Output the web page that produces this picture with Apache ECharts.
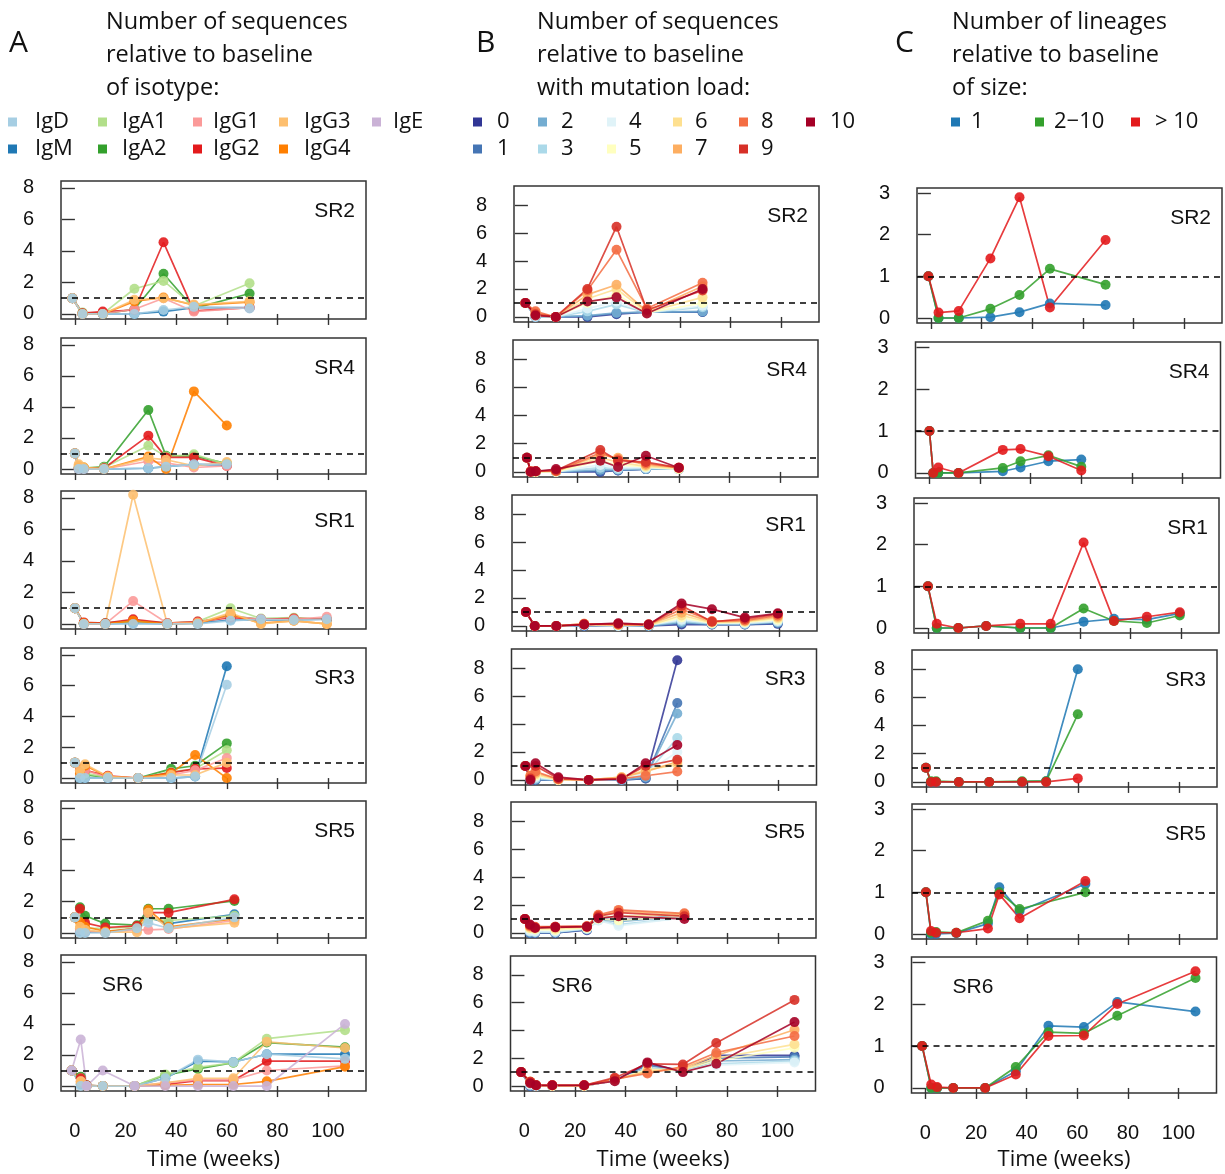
<!DOCTYPE html>
<html><head><meta charset="utf-8">
<script src="https://cdn.jsdelivr.net/npm/echarts@6/dist/echarts.min.js"></script>
<style>html,body{margin:0;padding:0;background:#fff}#c{width:1225px;height:1174px}</style>
</head><body><div id="c"></div>
<script>
// ---------------- DATA ----------------
const subjects = ['SR2','SR4','SR1','SR3','SR5','SR6'];
const weeksSR2 = [-1, 3, 11, 23.5, 35, 47, 69];
const weeksSR4 = [0, 1.5, 3.5, 11.5, 29, 36, 47, 60];
const weeksSR1 = [0, 3.5, 12, 23, 36.5, 48.5, 61.5, 73.5, 86.5, 99.5];
const weeksSR3 = [0, 2, 4, 13, 25, 38, 47.5, 60];
const weeksSR5 = [0, 2, 4, 12, 24.5, 29, 37, 63];
const weeksSR6 = [-1.3, 2.3, 4.6, 11, 23.6, 35.7, 48.6, 62.6, 75.8, 106.7];
const xTicks = [0, 20, 40, 60, 80, 100];
const yTicks8 = [0, 2, 4, 6, 8];
const yTicks3 = [0, 1, 2, 3];

// Panel A: isotypes
const isotypes = ['IgD','IgM','IgA1','IgA2','IgG1','IgG2','IgG3','IgG4','IgE'];
const isoColors = ['#A6CEE3','#1F78B4','#B2DF8A','#33A02C','#FB9A99','#E31A1C','#FDBF6F','#FF7F00','#CAB2D6'];
const isoDrawOrder = ['IgM','IgA2','IgA1','IgG2','IgG1','IgG4','IgG3','IgD','IgE'];
const isoSR2 = {
  IgD:[1,0,0,0,0.25,0.45,0.35], IgM:[1,0,0,0,0.15,0.4,0.4],
  IgA1:[1,0.1,0,1.6,2.1,0.5,1.95], IgA2:[1,0.05,0,0.3,2.55,0.35,1.3],
  IgG1:[1,0,0,0.3,1.0,0.15,0.4], IgG2:[1,0.05,0.15,0.25,4.55,0.2,0.4],
  IgG3:[1,0,0,0.9,1.0,0.6,0.8], IgG4:[1,0,0,0.8,1.05,0.55,0.75], IgE:null };
const isoSR4 = {
  IgD:[1,0,0,0,0.05,0.15,0.3,0.3], IgM:[1,0,0,0,0.05,0.15,0.3,0.25],
  IgA1:[1,0.1,0.1,0.1,1.5,0.8,0.95,0.3], IgA2:[1,0.1,0.05,0.15,3.8,0.85,0.85,0.35],
  IgG1:[1,0,0,0,0.5,0.4,0.1,0.2], IgG2:[1,0.05,0.05,0.05,2.15,0.75,0.75,0.2],
  IgG3:[1,0.3,0.1,0,0.7,0.6,0.2,0.45], IgG4:[1,0.2,0.1,0,0.8,0,5.0,2.8], IgE:null };
const isoSR1 = {
  IgD:[1,0,0,0,0,0,0.2,0.3,0.25,0.3], IgM:[1,0,0,0.05,0,0.05,0.25,0.25,0.25,0.3],
  IgA1:[1,0.05,0.05,0.2,0.05,0.15,1.0,0.35,0.4,0.3], IgA2:[1,0.05,0.05,0.2,0.05,0.1,0.5,0.3,0.3,0.3],
  IgG1:[1,0,0,1.45,0.05,0.1,0.5,0.3,0.3,0.45], IgG2:[1,0.1,0.05,0.3,0.05,0.15,0.4,0.3,0.35,0.3],
  IgG3:[1,0,0,8.2,0,0.05,0.7,0,0.2,0], IgG4:[1,0.05,0,0.2,0,0.05,0.6,0.05,0.2,0], IgE:null };
const isoSR3 = {
  IgD:[1,0,0,0,0,0,0.1,6.05], IgM:[1,0,0,0,0,0,0.1,7.25],
  IgA1:[1,0.5,0.3,0.05,0,0.4,0.6,1.8], IgA2:[1,0.4,0.2,0.05,0,0.6,0.8,2.25],
  IgG1:[1,0.3,0.5,0.05,0,0.2,0.5,1.3], IgG2:[1,0.6,0.5,0.15,0,0.35,0.6,0.65],
  IgG3:[1,0.5,0.9,0.1,0,0.2,0.2,1.0], IgG4:[1,0.3,0.8,0.1,0,0.3,1.5,0], IgE:null };
const isoSR5 = {
  IgD:[1,0,0,0,0.3,0.65,0.3,1.0], IgM:[1,0.1,0.05,0.05,0.3,1.0,0.6,1.2],
  IgA1:[1,0.3,0.3,0.3,0.4,0.9,0.8,1.1], IgA2:[1,1.65,1.1,0.6,0.5,1.55,1.55,2.05],
  IgG1:[1,0.2,0.1,0.05,0.2,0.2,0.25,0.8], IgG2:[1,1.55,0.65,0.35,0.45,1.3,1.3,2.15],
  IgG3:[1,0.4,0.2,0.05,0.05,1.3,0.3,0.65], IgG4:[1,0.7,0.4,0.1,0.3,1.5,0.4,0.9], IgE:null };
const isoSR6 = {
  IgD:[1,0,0,0,0,0.5,1.7,1.55,2.05,1.75], IgM:[1,0.1,0,0,0,0.5,1.6,1.55,2.05,2.05],
  IgA1:[1,0.5,0,0,0,0.75,1.2,1.5,3.05,3.6], IgA2:[1,0.6,0.05,0,0,0.7,1.1,1.5,2.8,2.5],
  IgG1:[1,0.3,0,0,0,0.2,0.4,0.4,1.0,1.3], IgG2:[1,0.5,0.05,0,0,0.1,0.35,0.35,1.6,1.6],
  IgG3:[1,0.3,0,0,0,0.2,0.5,0.5,2.85,2.45], IgG4:[1,0.2,0,0,0,0.05,0.1,0.1,0.3,1.25],
  IgE:[1,3.0,0,1.0,0,0,0,0,0,4.0] };

// Panel B: mutation load 0..10
const loads = ['0','1','2','3','4','5','6','7','8','9','10'];
const loadColors = ['#313695','#4575B4','#74ADD1','#ABD9E9','#E0F3F8','#FFFFBF','#FEE090','#FDAE61','#F46D43','#D73027','#A50026'];
const mutSR2 = [
  [1,0,0,0,0.2,0.35,0.35],[1,0,0,0.05,0.25,0.35,0.35],[1,0,0,0.1,0.3,0.35,0.4],
  [1,0,0,0.4,0.9,0.3,0.7],[1,0.05,0,0.6,1.1,0.3,0.8],[1,0.1,0,1.0,1.6,0.3,1.0],
  [1,0.2,0,1.3,2.0,0.35,1.4],[1,0.3,0,1.6,2.3,0.4,2.2],[1,0.4,0,1.9,4.8,0.6,2.45],
  [1,0.2,0,2.0,6.45,0.5,1.9],[1,0.1,0,1.1,1.4,0.25,2.0]];
const mutSR4 = [
  [1,0,0,0,0,0.1,0.2,0.2],[1,0,0,0,0.05,0.1,0.2,0.2],[1,0,0,0,0.15,0.15,0.2,0.2],
  [1,0,0,0,0.3,0.2,0.25,0.2],[1,0,0,0,0.5,0.3,0.3,0.2],[1,0,0,0,0.8,0.5,0.35,0.2],
  [1,0,0,0.05,1.0,0.7,0.4,0.25],[1,0,0.05,0.05,1.2,1.0,0.5,0.3],[1,0.05,0.05,0.05,1.35,0.9,0.6,0.3],
  [1,0.05,0.05,0.1,1.55,0.8,0.7,0.3],[1,0,0.05,0.2,0.8,0.35,1.15,0.3]];
const mutSR1 = [
  [1,0,0,0,0,0,0.1,0.1,0.1,0.15],[1,0,0,0,0,0,0.2,0.1,0.1,0.2],[1,0,0,0.05,0,0,0.25,0.15,0.15,0.25],
  [1,0,0,0.05,0,0.05,0.35,0.15,0.15,0.3],[1,0,0,0.05,0,0.05,0.45,0.2,0.2,0.35],[1,0,0,0.1,0.05,0.05,0.6,0.2,0.25,0.45],
  [1,0,0,0.1,0.05,0.05,0.75,0.25,0.3,0.55],[1,0,0,0.15,0.1,0.1,0.95,0.3,0.35,0.65],[1,0,0,0.15,0.1,0.1,1.2,0.35,0.4,0.75],
  [1,0,0,0.1,0.15,0.1,1.45,0.3,0.5,0.85],[1,0,0,0.1,0.2,0.1,1.6,1.2,0.6,0.9]];
const mutSR3 = [
  [1,0,0,0,0,0,0.1,8.55],[1,0,0,0,0,0,0.1,5.5],[1,0,0.05,0,0,0,0.2,4.75],
  [1,0.05,0.1,0,0,0.05,0.4,3.0],[1,0.1,0.2,0,0,0.05,0.5,2.0],[1,0.2,0.3,0,0,0.1,0.7,1.2],
  [1,0.3,0.4,0,0,0.2,0.7,1.1],[1,0.3,0.5,0.05,0,0.2,0.6,1.3],[1,0.3,0.6,0.05,0,0.1,0.3,0.6],
  [1,0.1,1.0,0.1,0,0.1,1.0,1.45],[1,0,1.2,0.2,0,0.05,1.2,2.5]];
const mutSR5 = [
  [1,0,0,0,0.2,1.0,0.9,1.2],[1,0,0,0,0.25,1.0,0.9,1.25],[1,0.05,0.05,0.05,0.25,0.95,0.8,1.2],
  [1,0.1,0.05,0.05,0.3,0.9,0.6,1.1],[1,0.15,0.1,0.1,0.3,0.9,0.5,1.1],[1,0.3,0.25,0.2,0.35,1.0,0.9,1.2],
  [1,0.35,0.3,0.3,0.4,1.1,1.2,1.3],[1,0.45,0.4,0.4,0.45,1.25,1.55,1.35],[1,0.5,0.45,0.45,0.5,1.3,1.65,1.4],
  [1,0.55,0.4,0.45,0.45,1.2,1.45,1.2],[1,0.6,0.35,0.4,0.45,1.05,1.2,1.0]];
const mutSR6 = [
  [1,0,0,0,0,0.4,1.6,1.1,2.2,2.2],[1,0,0,0,0,0.4,1.5,1.1,2.0,2.1],[1,0.05,0,0,0,0.4,1.3,1.1,1.8,1.9],
  [1,0.1,0,0,0,0.4,1.2,1.1,1.6,1.8],[1,0.1,0,0,0,0.4,1.2,1.1,1.5,1.7],[1,0.2,0.05,0,0,0.4,1.2,1.2,1.8,2.75],
  [1,0.3,0.05,0,0,0.45,1.1,1.2,2.0,3.0],[1,0.3,0.05,0.05,0.05,0.5,1.0,1.3,2.2,4.05],[1,0.3,0.05,0.05,0.05,0.5,0.9,1.4,2.4,3.6],
  [1,0.3,0.05,0.05,0.05,0.6,1.6,1.55,3.1,6.2],[1,0.2,0.05,0.05,0.05,0.35,1.7,1.0,1.6,4.6]];

// Panel C: lineage size
const sizes = ['1','2\u221210','> 10'];
const sizeColors = ['#1F78B4','#33A02C','#E31A1C'];
const sizeSR2 = [[1,0,0,0.02,0.14,0.35,0.31],[1,0,0,0.22,0.55,1.18,0.8],[1,0.13,0.17,1.43,2.9,0.25,1.87]];
const sizeSR4 = [[1,0,0,0,0.04,0.13,0.28,0.32],[1,0,0,0,0.12,0.28,0.42,0.15],[1,0,0.13,0,0.55,0.57,0.4,0.06]];
const sizeSR1 = [[1,0,0,0.05,0,0,0.15,0.22,0.2,0.35],[1,0,0,0.05,0,0,0.47,0.17,0.12,0.3],[1,0.1,0,0.05,0.1,0.1,2.05,0.17,0.27,0.38]];
const sizeSR3 = [[1,0,0,0,0,0,0.05,8.0],[1,0.05,0.05,0,0,0.05,0.05,4.8],[1,0,0,0,0,0,0,0.25]];
const sizeSR5 = [[1,0,0,0.02,0.25,1.12,0.55,1.2],[1,0.03,0.05,0.03,0.32,1.0,0.6,1.0],[1,0.07,0.03,0.03,0.13,0.95,0.38,1.27]];
const sizeSR6 = [[1,0,0,0,0,0.4,1.48,1.45,2.05,1.82],[1,0,0,0,0,0.5,1.33,1.3,1.72,2.62],[1,0.08,0.02,0,0,0.32,1.24,1.25,2.0,2.78]];

// ---------------- LAYOUT ----------------
const weeksBy = [weeksSR2, weeksSR4, weeksSR1, weeksSR3, weeksSR5, weeksSR6];
const isoBy = [isoSR2, isoSR4, isoSR1, isoSR3, isoSR5, isoSR6];
const mutBy = [mutSR2, mutSR4, mutSR1, mutSR3, mutSR5, mutSR6];
const sizeBy = [sizeSR2, sizeSR4, sizeSR1, sizeSR3, sizeSR5, sizeSR6];

const boxLeft = [[61,61,61,61,61,61],[514,513,512,511.5,511,510.5],[917,915.5,914,912,912,911.5]];
const boxTop = [[181,338,491,648,801,955],[186,340,495,649,802,956],[188,342,498,650,804,957]];
const boxH = [[138,136,138,135,137,136],[136,137,136,136,136,135],[135,136,135,137,135,136]];
const BOX_W = 305;
const X_MIN = -5.5, X_MAX = 115;

const grids = [], xAxes = [], yAxes = [], series = [], graphics = [];
const tickFont = {fontFamily:'"Liberation Sans", Arial, sans-serif', fontSize:20, color:'#111'};

function yRange(col, row){
  if (col === 2 && row !== 3) return {min:-0.12, max:3.12, ticks:yTicks3};
  if (col === 0) return {min:-0.32, max:8.44, ticks:yTicks8};
  return {min:-0.36, max:9.36, ticks:yTicks8};
}

function addLine(idx, name, color, weeks, vals, first){
  const s = {
    type:'line', name, xAxisIndex:idx, yAxisIndex:idx,
    data: weeks.map((w,k)=>[w, vals[k]]),
    symbol:'circle', symbolSize:10, showSymbol:true, silent:true,
    lineStyle:{color, width:1.7, opacity:0.85},
    itemStyle:{color, opacity:0.9},
    animation:false
  };
  if (first) {
    s.markLine = {silent:true, symbol:'none', label:{show:false},
      lineStyle:{type:[6,5], color:'#000', width:1.6, opacity:1},
      data:[{yAxis:1}], animation:false};
  }
  series.push(s);
}

for (let c = 0; c < 3; c++) {
  for (let r = 0; r < 6; r++) {
    const idx = c*6 + r;
    const L = boxLeft[c][r], T = boxTop[c][r], H = boxH[c][r];
    grids.push({left:L, top:T, width:BOX_W, height:H, show:true, borderColor:'#333', borderWidth:1.5, backgroundColor:'transparent', containLabel:false});
    xAxes.push({type:'value', gridIndex:idx, min:X_MIN, max:X_MAX, offset:2,
      axisLine:{show:false}, splitLine:{show:false},
      axisTick:{show:true, customValues:xTicks, length:11, lineStyle:{color:'#333', width:1.4}},
      axisLabel:Object.assign({show:r===5, customValues:xTicks, margin:28}, tickFont)});
    const yr = yRange(c, r);
    yAxes.push({type:'value', gridIndex:idx, min:yr.min, max:yr.max,
      axisLine:{show:false}, splitLine:{show:false},
      axisTick:{show:true, customValues:yr.ticks, length:13, lineStyle:{color:'#333', width:1.4}},
      axisLabel:Object.assign({customValues:yr.ticks, margin:27}, tickFont)});
    const weeks = weeksBy[r];
    let first = true;
    if (c === 0) {
      isoDrawOrder.forEach(name => {
        const v = isoBy[r][name];
        if (!v) return;
        addLine(idx, name, isoColors[isotypes.indexOf(name)], weeks, v, first); first = false;
      });
    } else if (c === 1) {
      loads.forEach((name, k) => { addLine(idx, name, loadColors[k], weeks, mutBy[r][k], first); first = false; });
    } else {
      sizes.forEach((name, k) => { addLine(idx, name, sizeColors[k], weeks, sizeBy[r][k], first); first = false; });
    }
    // panel label
    const lab = subjects[r];
    const isLeft = (lab === 'SR6');
    graphics.push({type:'text', x: isLeft ? L + 41 : L + BOX_W - 11, y: T + 30,
      style:{text:lab, font:'21px "Liberation Sans", Arial, sans-serif', fill:'#111',
        textAlign: isLeft ? 'left' : 'right', textVerticalAlign:'middle'}});
  }
}

// Headings
const headFont = '23.5px "Open Sans", sans-serif';
const letterFont = '30px "Open Sans", sans-serif';
function heading(letter, lx, tx, lines){
  graphics.push({type:'text', x:lx, y:43, style:{text:letter, font:letterFont, fill:'#111', textVerticalAlign:'middle'}});
  lines.forEach((t,i)=> graphics.push({type:'text', x:tx, y:22 + i*33,
    style:{text:t, font:headFont, fill:'#111', textVerticalAlign:'middle'}}));
}
heading('A', 9, 106, ['Number of sequences','relative to baseline','of isotype:']);
heading('B', 476, 537, ['Number of sequences','relative to baseline','with mutation load:']);
heading('C', 895, 952, ['Number of lineages','relative to baseline','of size:']);

// Legends (column-major, two rows)
const legFont = '22px "Open Sans", sans-serif';
function legendItem(sx, tx, y, color, text){
  graphics.push({type:'rect', shape:{x:sx, y:y-4.5, width:9, height:9}, style:{fill:color}});
  graphics.push({type:'text', x:tx, y:y, style:{text:text, font:legFont, fill:'#111', textVerticalAlign:'middle'}});
}
const legRowY = [122, 149];
const isoLegSq = [8, 98, 193, 279, 372];
const isoLegTx = [35, 122, 213, 304, 393];
isotypes.forEach((n,i)=> legendItem(isoLegSq[Math.floor(i/2)], isoLegTx[Math.floor(i/2)], legRowY[i%2], isoColors[i], n));
const mutLegSq = [473, 538, 607, 673, 739, 806];
const mutLegTx = [497, 561, 629, 695, 761, 830];
loads.forEach((n,i)=> legendItem(mutLegSq[Math.floor(i/2)], mutLegTx[Math.floor(i/2)], legRowY[i%2], loadColors[i], n));
const sizeLegSq = [951, 1035, 1131];
const sizeLegTx = [971, 1054, 1155];
sizes.forEach((n,i)=> legendItem(sizeLegSq[i], sizeLegTx[i], legRowY[0], sizeColors[i], n));

// x-axis titles
[0,1,2].forEach(c => {
  graphics.push({type:'text', x: boxLeft[c][5] + BOX_W/2, y:1160,
    style:{text:'Time (weeks)', font:'22px "Open Sans", sans-serif', fill:'#111', textAlign:'center', textVerticalAlign:'middle'}});
});

const chart = echarts.init(document.getElementById('c'), null, {renderer:'canvas'});
chart.setOption({
  animation:false, backgroundColor:'#fff',
  grid:grids, xAxis:xAxes, yAxis:yAxes, series:series, graphic:graphics
});
</script></body></html>
